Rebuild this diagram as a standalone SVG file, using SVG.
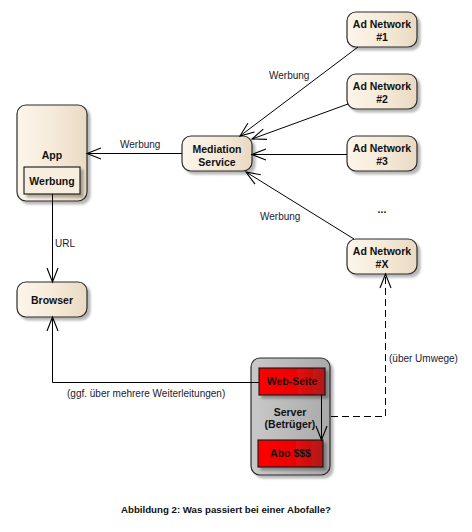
<svg xmlns="http://www.w3.org/2000/svg" width="472" height="532" viewBox="0 0 472 532">
<style>
.node{fill:url(#cream);stroke:#2b2b2b;stroke-width:1.2}
.nt{font-family:"Liberation Sans",Arial,sans-serif;font-size:10.5px;font-weight:bold;fill:#111;text-anchor:middle}
.lbl{font-family:"Liberation Sans",Arial,sans-serif;font-size:10px;fill:#1a1a2e}
.con{fill:none;stroke:#000;stroke-width:1}
.red{fill:url(#redg);stroke:#111;stroke-width:1.1}
</style>
<defs>
<linearGradient id="cream" x1="0" y1="0" x2="1" y2="0">
<stop offset="0" stop-color="#fcf5ea"/>
<stop offset="0.5" stop-color="#f6ebda"/>
<stop offset="1" stop-color="#e9d9c1"/>
</linearGradient>
<linearGradient id="gray" x1="0" y1="0" x2="1" y2="0">
<stop offset="0" stop-color="#c9c9c9"/>
<stop offset="1" stop-color="#a9a9a9"/>
</linearGradient>
<linearGradient id="redg" x1="0" y1="0" x2="1" y2="0">
<stop offset="0" stop-color="#ff0000"/>
<stop offset="0.55" stop-color="#ee0505"/>
<stop offset="1" stop-color="#b01a1a"/>
</linearGradient>
<filter id="sh" x="-20%" y="-20%" width="150%" height="150%">
<feDropShadow dx="3" dy="3" stdDeviation="1.3" flood-color="#000" flood-opacity="0.28"/>
</filter>
<marker id="arr" markerUnits="userSpaceOnUse" markerWidth="20" markerHeight="16" viewBox="-16 -8 18 16" refX="0" refY="0" orient="auto">
<path d="M-14,-5.5 L0,0 L-14,5.5" fill="none" stroke="#000" stroke-width="1.1"/>
</marker>
</defs>
<rect width="472" height="532" fill="#ffffff"/>

<g id="app">
<rect class="node" x="17" y="105" width="70" height="96" rx="9" filter="url(#sh)"/>
<text class="nt" x="52" y="159">App</text>
<g id="werbung-part">
<rect x="24" y="167" width="56" height="27" fill="#f8eee0" stroke="#111" stroke-width="1.1" filter="url(#sh)"/>
<text class="nt" x="52" y="185">Werbung</text>
</g>
</g>

<g id="browser">
<rect class="node" x="17" y="282" width="70" height="35" rx="9" filter="url(#sh)"/>
<text class="nt" x="52" y="304">Browser</text>
</g>

<g id="mediation">
<rect class="node" x="182" y="136" width="70" height="35" rx="9" filter="url(#sh)"/>
<text class="nt" x="217" y="152.5">Mediation</text>
<text class="nt" x="217" y="165.5">Service</text>
</g>

<g id="adnet1">
<rect class="node" x="347" y="12" width="70" height="35" rx="9" filter="url(#sh)"/>
<text class="nt" x="382" y="28">Ad Network</text>
<text class="nt" x="382" y="41">#1</text>
</g>

<g id="adnet2">
<rect class="node" x="347" y="74" width="70" height="35" rx="9" filter="url(#sh)"/>
<text class="nt" x="382" y="90">Ad Network</text>
<text class="nt" x="382" y="103">#2</text>
</g>

<g id="adnet3">
<rect class="node" x="347" y="136" width="70" height="35" rx="9" filter="url(#sh)"/>
<text class="nt" x="382" y="152">Ad Network</text>
<text class="nt" x="382" y="165">#3</text>
</g>

<g id="dots">
<text class="nt" x="382" y="213">...</text>
</g>

<g id="adnetx">
<rect class="node" x="347" y="239" width="70" height="35" rx="9" filter="url(#sh)"/>
<text class="nt" x="382" y="255">Ad Network</text>
<text class="nt" x="382" y="268">#X</text>
</g>

<g id="server">
<rect x="251" y="358" width="79" height="117" rx="9" fill="url(#gray)" stroke="#2b2b2b" stroke-width="1.2" filter="url(#sh)"/>
<text class="nt" x="290" y="415.5">Server</text>
<text class="nt" x="290" y="428">(Betrüger)</text>
<g id="webseite">
<rect class="red" x="259" y="368" width="66" height="27" filter="url(#sh)"/>
<text class="nt" x="292" y="385">Web-Seite</text>
</g>
<g id="abo">
<rect class="red" x="258" y="440" width="65" height="27" filter="url(#sh)"/>
<text class="nt" x="290.5" y="457">Abo $$$</text>
</g>
</g>

<g id="connectors">
<line class="con" x1="182" y1="153.5" x2="87" y2="153.5" marker-end="url(#arr)"/>
<line class="con" x1="52.5" y1="194" x2="52.5" y2="282" marker-end="url(#arr)"/>
<line class="con" x1="358" y1="47" x2="240" y2="136" marker-end="url(#arr)"/>
<line class="con" x1="348" y1="104" x2="252" y2="139" marker-end="url(#arr)"/>
<line class="con" x1="347" y1="154.5" x2="252" y2="154.5" marker-end="url(#arr)"/>
<line class="con" x1="354" y1="239" x2="246" y2="172" marker-end="url(#arr)"/>
<polyline class="con" points="259,382.5 52.5,382.5 52.5,317" marker-end="url(#arr)"/>
<line class="con" x1="321.5" y1="395" x2="321.5" y2="440" marker-end="url(#arr)"/>
<polyline class="con" points="331,416.5 385.5,416.5 385.5,274" stroke-dasharray="7,4" marker-end="url(#arr)"/>
<text class="lbl" x="120" y="148">Werbung</text>
<text class="lbl" x="55" y="247">URL</text>
<text class="lbl" x="269" y="79">Werbung</text>
<text class="lbl" x="260" y="220">Werbung</text>
<text class="lbl" x="67" y="397">(ggf. über mehrere Weiterleitungen)</text>
<text class="lbl" x="389" y="362">(über Umwege)</text>
</g>

<g id="caption">
<text x="226" y="513" font-family="'Liberation Sans',Arial,sans-serif" font-size="9px" font-weight="bold" fill="#111" text-anchor="middle" textLength="210" lengthAdjust="spacingAndGlyphs">Abbildung 2: Was passiert bei einer Abofalle?</text>
</g>
</svg>
